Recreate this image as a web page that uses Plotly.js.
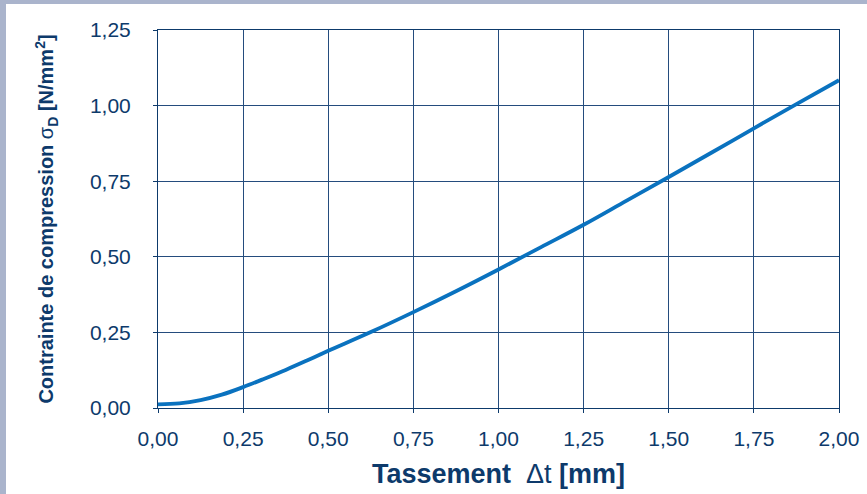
<!DOCTYPE html>
<html>
<head>
<meta charset="utf-8">
<script src="https://cdn.plot.ly/plotly-3.0.1.min.js"></script>
<style>
  html, body { margin: 0; padding: 0; background: #aab4cc; width: 867px; height: 494px; overflow: hidden; }
  #chart { position: absolute; left: 6px; top: 4px; width: 861px; height: 490px; background: #ffffff; }
</style>
</head>
<body>
<div id="chart"></div>
<script>
// Settlement Δt [mm]
const settlement = [0.000, 0.0625, 0.125, 0.1875, 0.250, 0.3125, 0.375, 0.4375, 0.500, 0.625, 0.750, 0.875, 1.000, 1.125, 1.250, 1.375, 1.500, 1.625, 1.750, 1.875, 2.000];
// Compressive stress σD [N/mm²]
const stress = [0.012, 0.015, 0.026, 0.044, 0.069, 0.097, 0.126, 0.157, 0.189, 0.251, 0.317, 0.386, 0.458, 0.532, 0.606, 0.685, 0.764, 0.844, 0.925, 1.005, 1.084];

const xTicks = [0, 0.25, 0.5, 0.75, 1.0, 1.25, 1.5, 1.75, 2.0];
const yTicks = [0, 0.25, 0.5, 0.75, 1.0, 1.25];

const navy = '#0d3a6b';
const gridColor = '#244c7d';

const trace = {
  x: settlement,
  y: stress,
  type: 'scatter',
  mode: 'lines',
  line: { color: '#0a72bf', width: 3.8, shape: 'spline', smoothing: 1 },
  hoverinfo: 'x+y'
};

const layout = {
  width: 861,
  height: 490,
  margin: { l: 152, r: 28, t: 26, b: 86 },
  paper_bgcolor: '#ffffff',
  plot_bgcolor: '#ffffff',
  separators: ',.',
  showlegend: false,
  font: { family: 'Liberation Sans, Arial, sans-serif', color: navy },
  xaxis: {
    range: [0, 2],
    tickvals: xTicks,
    tickformat: '.2f',
    ticks: 'outside',
    ticklen: 4,
    tickcolor: navy,
    showline: true,
    linecolor: navy,
    linewidth: 1,
    mirror: true,
    showgrid: true,
    gridcolor: gridColor,
    gridwidth: 1,
    zeroline: false,
    tickfont: { size: 21, color: navy },
    ticklabelstandoff: 8,
    title: {
      text: '<b>Tassement</b>  <span style="font-weight:normal">Δt</span> <b>[mm]</b>',
      font: { size: 27, color: navy },
      standoff: 14
    }
  },
  yaxis: {
    range: [0, 1.25],
    tickvals: yTicks,
    tickformat: '.2f',
    ticks: 'outside',
    ticklen: 4,
    tickcolor: navy,
    showline: true,
    linecolor: navy,
    linewidth: 1,
    mirror: true,
    showgrid: true,
    gridcolor: gridColor,
    gridwidth: 1,
    zeroline: false,
    tickfont: { size: 21, color: navy },
    ticklabelstandoff: 18,
    title: {
      text: '<b>Contrainte de compression </b>σ<b><sub>D</sub> [N/mm<sup>2</sup>]</b>',
      font: { size: 20, color: navy },
      standoff: 30
    }
  }
};

Plotly.newPlot('chart', [trace], layout, { displayModeBar: false, staticPlot: true });
</script>
</body>
</html>
